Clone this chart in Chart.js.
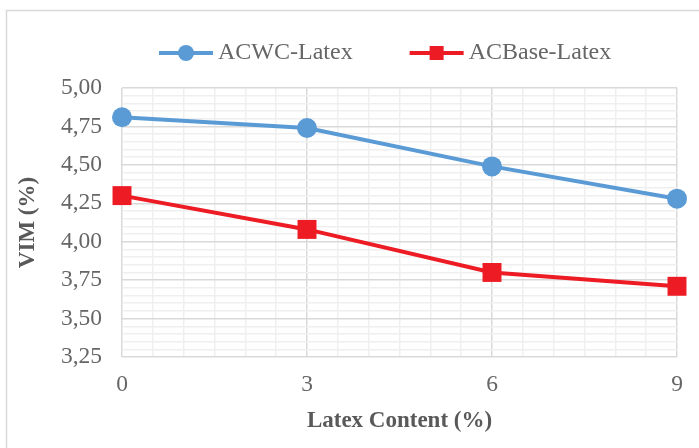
<!DOCTYPE html>
<html><head><meta charset="utf-8">
<script src="https://cdn.jsdelivr.net/npm/chart.js@4/dist/chart.umd.min.js"></script>
<style>html,body{margin:0;padding:0;background:#fff}#wrap{width:699px;height:448px;position:relative}</style>
</head><body><div id="wrap"><canvas id="c" width="699" height="448"></canvas></div>
<script>
const latexContent = [0, 3, 6, 9];
const acwcLatex = [4.81, 4.74, 4.49, 4.28];
const acbaseLatex = [4.30, 4.08, 3.80, 3.71];
const seriesNames = ['ACWC-Latex', 'ACBase-Latex'];
const xTickValues = [0, 3, 6, 9];
const xTickLabels = ['0', '3', '6', '9'];
const yTickValues = [3.25, 3.5, 3.75, 4, 4.25, 4.5, 4.75, 5];
const yTickLabels = ['3,25', '3,50', '3,75', '4,00', '4,25', '4,50', '4,75', '5,00'];
const xTitle = 'Latex Content (%)';
const yTitle = 'VIM (%)';

const FONT = '"Liberation Serif", "Times New Roman", serif';
const BLUE = '#5b9bd5', RED = '#ed1c24';

function findIdx(arr, v) { return arr.findIndex(t => Math.abs(t - v) < 1e-6); }

const frame = {
  id: 'frame',
  beforeDraw(chart) {
    const ctx = chart.ctx;
    ctx.save();
    ctx.fillStyle = '#fff';
    ctx.fillRect(0, 0, chart.width, chart.height);
    ctx.strokeStyle = '#d9d9d9';
    ctx.lineWidth = 1.5;
    ctx.strokeRect(6.5, 10.5, 720, 460);
    ctx.restore();
  }
};

const customLegend = {
  id: 'customLegend',
  afterDraw(chart) {
    const ctx = chart.ctx;
    ctx.save();
    ctx.font = '24px ' + FONT;
    ctx.textBaseline = 'middle';
    ctx.textAlign = 'left';
    let x = 159;
    const y = 53;
    chart.data.datasets.forEach(ds => {
      ctx.strokeStyle = ds.borderColor;
      ctx.lineWidth = 4;
      ctx.beginPath(); ctx.moveTo(x, y); ctx.lineTo(x + 54, y); ctx.stroke();
      ctx.fillStyle = ds.backgroundColor;
      const cx = x + 27;
      if (ds.pointStyle === 'circle') {
        ctx.beginPath(); ctx.arc(cx, y, 8, 0, Math.PI * 2); ctx.fill();
      } else {
        ctx.fillRect(cx - 7, y - 7, 14, 14);
      }
      ctx.fillStyle = '#666666';
      ctx.fillText(ds.label, x + 59, y);
      x += 59 + ctx.measureText(ds.label).width + 57;
    });
    ctx.restore();
  }
};

function gridColor(majors) {
  return ctx => (ctx.tick && findIdx(majors, ctx.tick.value) >= 0) ? '#d9d9d9' : '#efefef';
}

new Chart(document.getElementById('c'), {
  type: 'scatter',
  data: {
    datasets: [
      {
        label: seriesNames[0],
        data: latexContent.map((x, i) => ({ x, y: acwcLatex[i] })),
        showLine: true,
        borderColor: BLUE, backgroundColor: BLUE,
        borderWidth: 4, pointStyle: 'circle', pointRadius: 10, pointHoverRadius: 10,
        pointBorderWidth: 0
      },
      {
        label: seriesNames[1],
        data: latexContent.map((x, i) => ({ x, y: acbaseLatex[i] })),
        showLine: true,
        borderColor: RED, backgroundColor: RED,
        borderWidth: 4, pointStyle: 'rect', pointRadius: 13.4, pointHoverRadius: 13.4,
        pointBorderWidth: 0
      }
    ]
  },
  options: {
    responsive: false,
    animation: false,
    devicePixelRatio: 1,
    clip: false,
    layout: { padding: { left: 0, right: 22, top: 88, bottom: 0 } },
    plugins: { legend: { display: false }, tooltip: { enabled: false } },
    scales: {
      x: {
        type: 'linear', min: 0, max: 9,
        afterFit: s => { s.height = 91; },
        ticks: {
          stepSize: 0.5, autoSkip: false, maxRotation: 0, padding: 14,
          font: { family: FONT, size: 23.5 }, color: '#666666',
          callback: v => { const i = findIdx(xTickValues, v); return i >= 0 ? xTickLabels[i] : ''; }
        },
        grid: { color: gridColor(xTickValues), lineWidth: 1.5, drawTicks: false },
        border: { display: false },
        title: {
          display: true, text: xTitle, color: '#595959',
          font: { family: FONT, size: 23, weight: 'bold' },
          padding: { top: 13, bottom: 13 }
        }
      },
      y: {
        type: 'linear', min: 3.25, max: 5,
        afterFit: s => { s.width = 122; },
        ticks: {
          stepSize: 0.05, autoSkip: false, padding: 20,
          font: { family: FONT, size: 23.5 }, color: '#666666',
          callback: v => { const i = findIdx(yTickValues, v); return i >= 0 ? yTickLabels[i] : ''; }
        },
        grid: { color: gridColor(yTickValues), lineWidth: 1.5, drawTicks: false },
        border: { display: false },
        title: {
          display: true, text: yTitle, color: '#595959',
          font: { family: FONT, size: 23, weight: 'bold' },
          padding: { top: 14, bottom: 14 }
        }
      }
    }
  },
  plugins: [frame, customLegend]
});
</script>
</body></html>
